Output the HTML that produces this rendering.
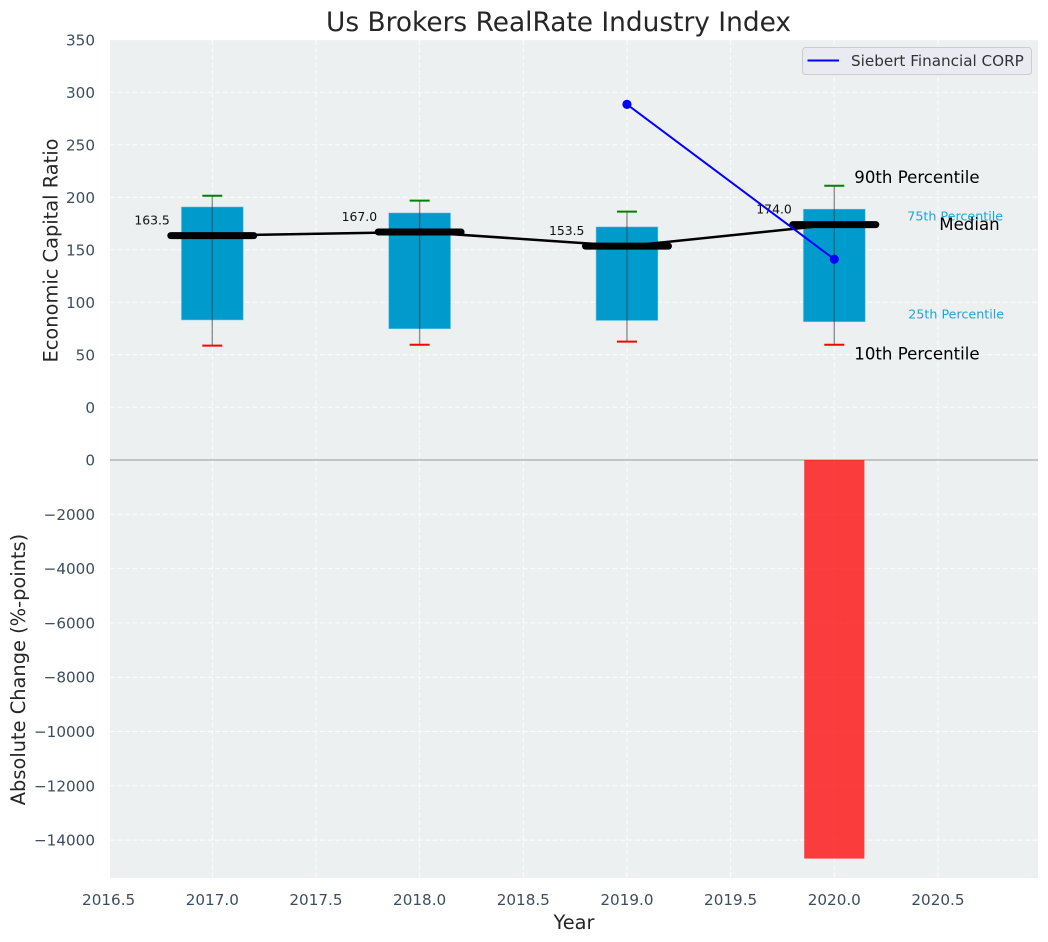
<!DOCTYPE html>
<html>
<head>
<meta charset="utf-8">
<title>Us Brokers RealRate Industry Index</title>
<style>
html,body{margin:0;padding:0;background:#fff;width:1048px;height:942px;overflow:hidden}
svg{display:block;font-family:"DejaVu Sans","Liberation Sans",sans-serif}
.tick{font-size:15.2px;fill:#2c3e50;opacity:.92}
.axis-title{font-size:19.4px;fill:#262626}
</style>
</head>
<body>
<svg id="chart" xmlns="http://www.w3.org/2000/svg" width="1048" height="942" viewBox="0 0 1048 942">
  <rect x="110" y="40" width="928" height="420" fill="#ecf0f1"/>
  <rect x="110" y="460" width="928" height="418" fill="#ecf0f1"/>
  <g id="grid"></g>
  <g id="marks"></g>
  <g id="ticks"></g>
  <text x="558.5" y="31" text-anchor="middle" font-size="26.4px" fill="#262626">Us Brokers RealRate Industry Index</text>
  <text class="axis-title" transform="translate(57.5,250.5) rotate(-90)" text-anchor="middle">Economic Capital Ratio</text>
  <text class="axis-title" transform="translate(25,669.5) rotate(-90)" text-anchor="middle">Absolute Change (%-points)</text>
  <text class="axis-title" x="574" y="929" text-anchor="middle">Year</text>
  <g>
    <rect x="802.5" y="47.5" width="229" height="27" rx="3" fill="#eaeaf2" stroke="#cccccc" stroke-width="1"/>
    <line x1="807.5" y1="60.5" x2="839" y2="60.5" stroke="#0000ff" stroke-width="2"/>
    <text x="851" y="66" font-size="15.2px" fill="#333333">Siebert Financial CORP</text>
  </g>
</svg>
<script>
const years = [2017, 2018, 2019, 2020];
const p90 = [201.5, 196.8, 186.3, 211];
const q3 = [191, 185.3, 172, 188.9];
const medians = [163.5, 167, 153.5, 174];
const q1 = [83, 74.6, 82.5, 81.3];
const p10 = [58.7, 59.6, 62.5, 59.6];
const siebert = [null, null, 288.5, 141];
const absoluteChange = [0, 0, 0, -14680];
const xTicks = [2016.5, 2017, 2017.5, 2018, 2018.5, 2019, 2019.5, 2020, 2020.5];
const xTickLabels = ["2016.5", "2017.0", "2017.5", "2018.0", "2018.5", "2019.0", "2019.5", "2020.0", "2020.5"];
const topTicks = [0, 50, 100, 150, 200, 250, 300, 350];
const topTickLabels = ["0", "50", "100", "150", "200", "250", "300", "350"];
const bottomTicks = [0, -2000, -4000, -6000, -8000, -10000, -12000, -14000];
const bottomTickLabels = ["0", "\u22122000", "\u22124000", "\u22126000", "\u22128000", "\u221210000", "\u221212000", "\u221214000"];

const NS = "http://www.w3.org/2000/svg";
const PANEL_LEFT = 110, PANEL_RIGHT = 1038, PANEL_TOP = 40, PANEL_MID = 460, PANEL_BOTTOM = 878;
const BOX_HALF = 0.15, MEDIAN_HALF = 0.2;

function xScale(v) { return 212.3 + (v - 2017) * 207.33; }
function yTop(v) { return 407.3 - v * 1.05; }
function yBottom(v) { return 460 - v * 54.3 / 2000; }

function shape(tag, parent, props) {
  const node = document.createElementNS(NS, tag);
  Object.keys(props).forEach(function (k) { node.setAttribute(k, props[k]); });
  parent.appendChild(node);
  return node;
}

const gridGroup = document.getElementById("grid");
const marks = document.getElementById("marks");
const tickGroup = document.getElementById("ticks");

xTicks.forEach(function (t, i) {
  const gx = shape("line", gridGroup, { x1: xScale(t), x2: xScale(t), y1: PANEL_TOP, y2: PANEL_BOTTOM, stroke: "#ffffff", "stroke-width": 1, "stroke-dasharray": "5 2.5", opacity: 0.85 });
  
  
  const lx = shape("text", tickGroup, { x: xScale(t), y: 905, "text-anchor": "middle", class: "tick" });
  lx.textContent = xTickLabels[i];
  
  
});

topTicks.forEach(function (t, i) {
  const gy = shape("line", gridGroup, { x1: PANEL_LEFT, x2: PANEL_RIGHT, y1: yTop(t), y2: yTop(t), stroke: "#ffffff", "stroke-width": 1, "stroke-dasharray": "5 2.5", opacity: 0.85 });
  
  
  const ly = shape("text", tickGroup, { x: 95, y: yTop(t) + 5.5, "text-anchor": "end", class: "tick" });
  ly.textContent = topTickLabels[i];
  
  
});

bottomTicks.forEach(function (t, i) {
  const gy = shape("line", gridGroup, { x1: PANEL_LEFT, x2: PANEL_RIGHT, y1: yBottom(t), y2: yBottom(t), stroke: "#ffffff", "stroke-width": 1, "stroke-dasharray": "5 2.5", opacity: 0.85 });
  
  
  const ly = shape("text", tickGroup, { x: 95, y: yBottom(t) + 5.5, "text-anchor": "end", class: "tick" });
  ly.textContent = bottomTickLabels[i];
  
  
});

const zeroLine = shape("line", marks, { x1: PANEL_LEFT, x2: PANEL_RIGHT, y1: yBottom(0), y2: yBottom(0), stroke: "#b5b5b5", "stroke-width": 1.5 });



absoluteChange.forEach(function (v, i) {
  const top = Math.min(yBottom(v), yBottom(0));
  const bar = shape("rect", marks, { x: xScale(years[i] - 0.145), y: top, width: xScale(years[i] + 0.145) - xScale(years[i] - 0.145), height: Math.abs(yBottom(v) - yBottom(0)), fill: "#ff0000", "fill-opacity": 0.75 });
  
  
});

years.forEach(function (year, i) {
  const box = shape("rect", marks, { x: xScale(year - BOX_HALF), y: yTop(q3[i]), width: xScale(year + BOX_HALF) - xScale(year - BOX_HALF), height: yTop(q1[i]) - yTop(q3[i]), fill: "#009bcd", stroke: "#cfe6ef", "stroke-opacity": 0.5, "stroke-width": 1 });
  
  
  const whisker = shape("line", marks, { x1: xScale(year), x2: xScale(year), y1: yTop(p90[i]), y2: yTop(p10[i]), stroke: "#3c3c3c", "stroke-opacity": 0.55, "stroke-width": 1.4 });
  
  
  const capHigh = shape("line", marks, { x1: xScale(year) - 10, x2: xScale(year) + 10, y1: yTop(p90[i]), y2: yTop(p90[i]), stroke: "#008000", "stroke-width": 2 });
  
  
  const capLow = shape("line", marks, { x1: xScale(year) - 10, x2: xScale(year) + 10, y1: yTop(p10[i]), y2: yTop(p10[i]), stroke: "#ff0000", "stroke-width": 2 });
  
  
});

const medianLine = shape("polyline", marks, { points: years.map(function (y, i) { return xScale(y) + "," + yTop(medians[i]); }).join(" "), fill: "none", stroke: "#000000", "stroke-width": 2.5 });



years.forEach(function (year, i) {
  const bar = shape("line", marks, { x1: xScale(year - MEDIAN_HALF), x2: xScale(year + MEDIAN_HALF), y1: yTop(medians[i]), y2: yTop(medians[i]), stroke: "#000000", "stroke-width": 7, "stroke-linecap": "round" });
  
  
  const label = shape("text", marks, { x: xScale(year) - 42.5, y: yTop(medians[i]) - 11, "text-anchor": "end", "font-size": "12.4px", fill: "#111111" });
  label.textContent = medians[i].toFixed(1);
  
  
});

const siebertPoints = years.map(function (y, i) { return siebert[i] === null ? null : [xScale(y), yTop(siebert[i])]; }).filter(Boolean);
const siebertLine = shape("polyline", marks, { points: siebertPoints.map(function (p) { return p.join(","); }).join(" "), fill: "none", stroke: "#0000ff", "stroke-width": 2 });


siebertPoints.forEach(function (p) {
  const dot = shape("circle", marks, { cx: p[0], cy: p[1], r: 4.6, fill: "#0000ff" });
  
  
});

const last = years.length - 1;
const lastX = xScale(years[last]);
const t90 = shape("text", marks, { x: lastX + 20, y: yTop(p90[last]) - 3, "font-size": "16.6px", fill: "#000000" });
t90.textContent = "90th Percentile";


const t75 = shape("text", marks, { x: lastX + 73, y: yTop(q3[last]) + 11.5, "font-size": "12.7px", fill: "#1ea5d3" });
t75.textContent = "75th Percentile";


const tMed = shape("text", marks, { x: lastX + 105, y: yTop(medians[last]) + 5.5, "font-size": "16.6px", fill: "#000000" });
tMed.textContent = "Median";


const t25 = shape("text", marks, { x: lastX + 74, y: yTop(q1[last]) - 3.5, "font-size": "12.7px", fill: "#1ea5d3" });
t25.textContent = "25th Percentile";


const t10 = shape("text", marks, { x: lastX + 20, y: yTop(p10[last]) + 15, "font-size": "16.6px", fill: "#000000" });
t10.textContent = "10th Percentile";


</script>
</body>
</html>
